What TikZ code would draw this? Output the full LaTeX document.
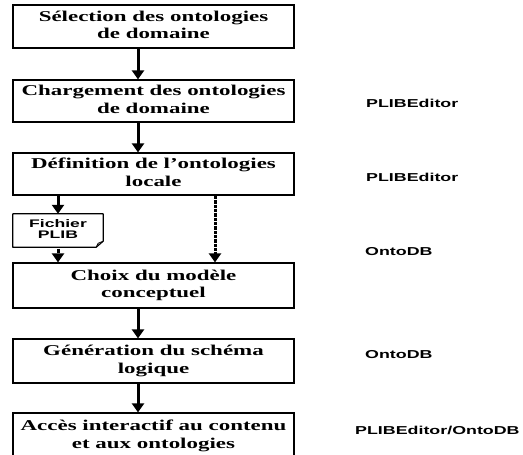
\documentclass[tikz,border=0pt]{standalone}
\usepackage{fontspec}
\setmainfont{Liberation Serif}
\newfontfamily\lsans{Liberation Sans}
\usetikzlibrary{arrows.meta}
\newcommand{\btext}[2]{\scalebox{1.53}[1]{\fontsize{15}{17.5}\selectfont\bfseries\begin{tabular}{@{}c@{}}#1\\#2\end{tabular}}}
\newcommand{\stext}[1]{\scalebox{1.55}[1]{\lsans\fontsize{11.5}{12}\selectfont\bfseries #1}}
\begin{document}
\begin{tikzpicture}[x=1pt,y=-1pt,
  box/.style={draw=black, line width=1.2pt, minimum width=281pt, inner sep=0pt, rectangle},
  arr/.style={line width=3pt, -{Triangle[width=12pt,length=9pt]}},
  darr/.style={line width=3pt, dash pattern=on 0.8pt off 0.5pt, -{Triangle[width=12pt,length=9pt]}},
  lab/.style={anchor=west, inner sep=0pt}]
\useasboundingbox (0,0) rectangle (523,455);
\clip (0,0) rectangle (523,455);
\coordinate (ax) at (138,0);
\coordinate (fx) at (58,0);
\coordinate (dx) at (215,0);
\node[box, minimum height=43pt] (b1) at (153.5,26.5) {\btext{Sélection des ontologies}{de domaine}};
\node[box, minimum height=42pt] (b2) at (153.5,101) {\btext{Chargement des ontologies}{de domaine}};
\node[box, minimum height=42pt] (b3) at (153.5,174) {\btext{Définition de l’ontologies}{locale}};
\node[box, minimum height=45pt] (b4) at (153.5,285.5) {\btext{Choix du modèle}{conceptuel}};
\node[box, minimum height=44pt] (b5) at (153.5,361) {\btext{Génération du schéma}{logique}};
\node[box, minimum height=46pt] (b6) at (153.5,436) {\btext{Accès interactif au contenu}{et aux ontologies}};
% Fichier PLIB document
\node[minimum width=90pt, minimum height=33pt, inner sep=0pt] (f) at (58,230.5)
  {\scalebox{1.6}[1]{\lsans\fontsize{11}{11.5}\selectfont\bfseries\begin{tabular}{@{}c@{}}Fichier\\PLIB\end{tabular}}};
\draw[line width=1.2pt, line join=round] (f.north west) -- (f.north east) -- ([yshift=6pt]f.south east) -- ([xshift=-7pt]f.south east) -- (f.south west) -- cycle;
\draw[line width=0.8pt] ([xshift=-7pt]f.south east) -- ([xshift=-5pt,yshift=4pt]f.south east) -- ([yshift=6pt]f.south east);
% arrows
\draw[arr] (b1.south -| ax) -- (b2.north -| ax);
\draw[arr] (b2.south -| ax) -- (b3.north -| ax);
\draw[arr] (b3.south -| fx) -- (f.north);
\draw[darr] (f.south) -- (b4.north -| fx);
\draw[darr] (b3.south -| dx) -- (b4.north -| dx);
\draw[arr] (b4.south -| ax) -- (b5.north -| ax);
\draw[arr] (b5.south -| ax) -- (b6.north -| ax);
% labels
\node[lab] (l1) at (366,103) {\stext{PLIBEditor}};
\node[lab] (l2) at (366,177) {\stext{PLIBEditor}};
\node[lab] (l3) at (365,252) {\stext{OntoDB}};
\node[lab] (l4) at (365,355) {\stext{OntoDB}};
\node[lab] (l5) at (355,430) {\stext{PLIBEditor/OntoDB}};
\end{tikzpicture}
\end{document}
